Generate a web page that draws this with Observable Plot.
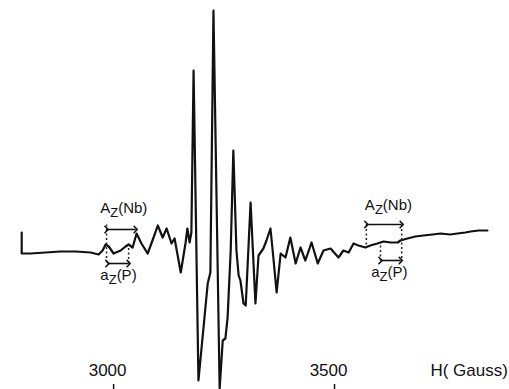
<!DOCTYPE html>
<html>
<head>
<meta charset="utf-8">
<script src="https://cdn.jsdelivr.net/npm/d3@7"></script>
<script src="https://cdn.jsdelivr.net/npm/@observablehq/plot@0.6"></script>
<style>
  html, body { margin: 0; padding: 0; background: #fff; }
  svg { display: block; }
</style>
</head>
<body>
<div id="chart"></div>
<script>
// EPR spectrum: magnetic field H (Gauss) vs. derivative signal (arbitrary units)
const field = [2792, 2792, 2812, 2846, 2880, 2914, 2948, 2966, 2975, 2982, 2989, 3000, 3016, 3027, 3034, 3043, 3052, 3063, 3077, 3088,
  3100, 3111, 3120, 3131, 3138, 3152, 3163, 3167, 3172, 3176, 3181, 3192, 3213, 3219, 3226, 3240, 3247, 3253, 3258, 3265,
  3271, 3278, 3283, 3287, 3294, 3299, 3310, 3321, 3328, 3339, 3346, 3355, 3360, 3369, 3378, 3389, 3400, 3412, 3423, 3434,
  3448, 3462, 3475, 3491, 3509, 3520, 3532, 3543, 3554, 3570, 3581, 3597, 3611, 3627, 3643, 3649, 3665, 3683, 3701, 3722,
  3740, 3762, 3778, 3796, 3808, 3826, 3846];
const signal = [20, -1, -1, 0, 1, 1, 0, -2, 2, 8, 6, -1, 2, 6, 8, 5, 19, 9, -1, 12,
  27, 15, 24, 9, 14, -20, 10, 24, 10, 20, 182, -128, -31, -20, 242, -136, -88, -86, -65, 2,
  102, 2, -23, -28, -51, -53, 50, -51, -3, 4, 12, 24, 2, -40, -1, -5, 15, -11, 5, -8,
  10, -11, 2, 4, -5, 2, 0, 9, 7, 5, 7, 9, 11, 10, 10, 12, 14, 16, 17, 18,
  19, 18, 19, 20, 21, 22, 22];

const tickValues = [3000, 3500];
const tickLabels = ["3000", "3500"];
const axisTitle = "H( Gauss)";
const axisTitleField = 3717;

// Hyperfine splitting annotations (left and right groups)
const arrowX1 = [2984, 2986, 3572, 3604];
const arrowX2 = [3050, 3034, 3652, 3650];
const arrowY = [23, -11, 28, -8];

const guideX = [2984, 3034, 3572, 3652, 3604];
const guideY1 = [28, 9, 28, 28, 7];
const guideY2 = [-11, -11, 5, -8, -8];

const labelText = ["A_Z(Nb)", "a_Z(P)", "A_Z(Nb)", "a_Z(P)"];
const labelX = [3023, 3011, 3622, 3624];
const labelY = [44, -23, 47, -20];

const trace = field.map((f, i) => ({field: f, signal: signal[i]}));
const arrows = arrowX1.map((x1, i) => ({x1, x2: arrowX2[i], y: arrowY[i]}));
const guides = guideX.map((x, i) => ({x, y1: guideY1[i], y2: guideY2[i]}));
const labels = labelText.map((t, i) => ({t, x: labelX[i], y: labelY[i]}));
const ticks = tickValues.map((v, i) => ({v, label: tickLabels[i]}));

const font = "Liberation Sans, Arial, sans-serif";

const chart = Plot.plot({
  width: 509,
  height: 389,
  margin: 0,
  style: {fontFamily: font, background: "#fff"},
  x: {domain: [2744, 3896], axis: null},
  y: {domain: [-137, 252], axis: null},
  marks: [
    Plot.line(trace, {x: "field", y: "signal", stroke: "#111", strokeWidth: 2.2, strokeLinejoin: "round"}),
    Plot.link(guides, {x1: "x", x2: "x", y1: "y1", y2: "y2", stroke: "#222", strokeWidth: 1.5, strokeDasharray: "2,2.5"}),
    Plot.link(arrows, {x1: "x1", x2: "x2", y1: "y", y2: "y", stroke: "#111", strokeWidth: 1.6, markerStart: "arrow", markerEnd: "arrow"}),
    Plot.text(labels, {x: "x", y: "y", text: "t", fontSize: 15, fill: "#111"}),
    Plot.ruleX(ticks, {x: "v", insetTop: 384, stroke: "#111", strokeWidth: 1.5}),
    Plot.text(ticks, {x: "v", text: "label", frameAnchor: "bottom", dy: -14, dx: -6, fontSize: 17, fill: "#111"}),
    Plot.text([axisTitle], {x: () => axisTitleField, text: d => d, frameAnchor: "bottom", textAnchor: "start", dy: -14, fontSize: 17, fill: "#111"})
  ]
});

// Render subscripts (A_Z -> A with subscript Z)
chart.querySelectorAll("text").forEach(t => {
  const m = t.textContent.match(/^(.)_(.)(.*)$/);
  if (!m) return;
  t.textContent = "";
  const ns = "http://www.w3.org/2000/svg";
  const a = document.createElementNS(ns, "tspan"); a.textContent = m[1];
  const b = document.createElementNS(ns, "tspan"); b.textContent = m[2];
  b.setAttribute("dy", "4"); b.setAttribute("font-size", "13");
  const c = document.createElementNS(ns, "tspan"); c.textContent = m[3];
  c.setAttribute("dy", "-4");
  t.append(a, b, c);
});

document.getElementById("chart").append(chart);
</script>
</body>
</html>
